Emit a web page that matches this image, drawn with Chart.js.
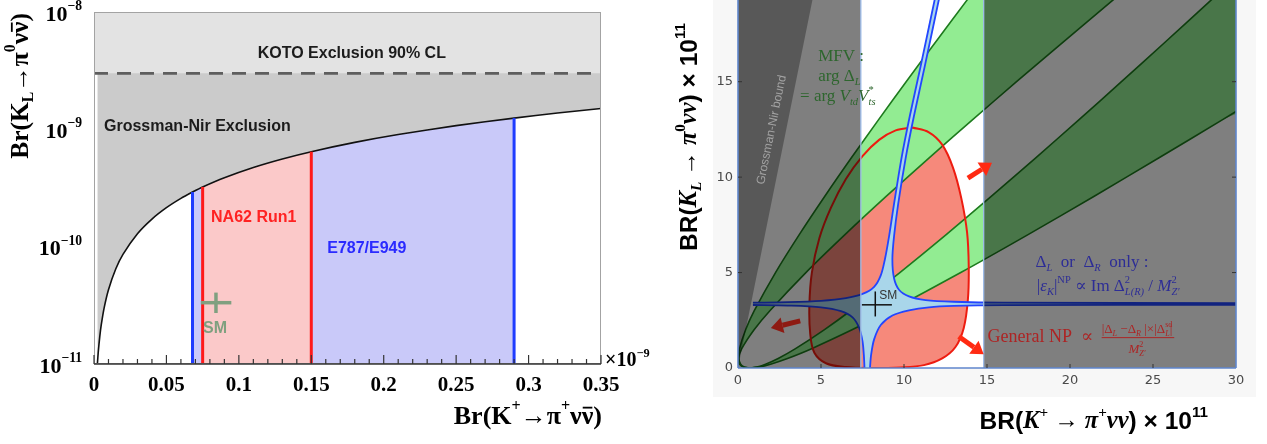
<!DOCTYPE html>
<html><head><meta charset="utf-8">
<script src="https://cdn.jsdelivr.net/npm/chart.js@4.4.1/dist/chart.umd.min.js"></script>
<style>
html,body{margin:0;padding:0;background:#fff;width:1267px;height:444px;overflow:hidden;}
#bgR{position:absolute;left:713px;top:0;width:543px;height:397px;background:#f7f7f7;}
#cL{position:absolute;left:0;top:0;width:700px;height:444px;}
#cR{position:absolute;left:640px;top:0;width:627px;height:444px;}
</style></head><body>
<div id="bgR"></div>
<canvas id="cL" width="700" height="444"></canvas>
<canvas id="cR" width="627" height="444"></canvas>
<script>
// ================= LEFT PANEL DATA =================
const leftXTicks = [0, 0.05, 0.1, 0.15, 0.2, 0.25, 0.3, 0.35];
const leftXMinor = [0.01,0.02,0.03,0.04,0.06,0.07,0.08,0.09,0.11,0.12,0.13,0.14,0.16,0.17,0.18,0.19,0.21,0.22,0.23,0.24,0.26,0.27,0.28,0.29,0.31,0.32,0.33,0.34];
const leftYTicks = [1e-8, 1e-9, 1e-10, 1e-11];
const leftYExp = ['\u22128','\u22129','\u221210','\u221211'];
// Grossman-Nir bound curve (BR(K+) in units of 1e-9, BR(KL))
const gnKplus = [0.0023,0.003,0.004,0.005,0.007,0.01,0.015,0.02,0.03,0.04,0.05,0.06,0.068,0.075,0.09,0.11,0.13,0.15,0.18,0.21,0.25,0.29,0.32,0.35];
const gnKL = [9.9e-12,1.29e-11,1.72e-11,2.15e-11,3.01e-11,4.3e-11,6.45e-11,8.6e-11,1.29e-10,1.72e-10,2.15e-10,2.58e-10,2.92e-10,3.23e-10,3.87e-10,4.73e-10,5.59e-10,6.45e-10,7.74e-10,9.03e-10,1.075e-9,1.247e-9,1.376e-9,1.505e-9];
const kotoLimit = 3.0e-9;
const e949Range = [0.068, 0.29];
const na62Range = [0.075, 0.15];
const smKplus = [0.0737, 0.0842, 0.0948];   // low, central, high
const smKL = [2.72e-11, 3.33e-11, 4.06e-11];  // low, central, high

// ================= RIGHT PANEL DATA =================
const rXTicks = [0,5,10,15,20,25,30];
const rYTicks = [0,5,10,15];
const allowedKplus = [7.4, 14.8];
const gnWedge = [[0,0],[4.5,19.35],[0,19.35],[0,0]];
// MFV band boundaries [x, y]
const mfvA = [[0.70,0],[0.38,0.05],[0.16,0.2],[0.05,0.5],[0.09,1],[0.46,2],[0.98,3],[2.26,5],[3.70,7],[5.23,9],[6.82,11],[8.46,13],[10.13,15],[11.84,17],[13.82,19.3],[15.31,21]];
const mfvB = [[0.70,0],[0.31,0.05],[0.09,0.2],[0.03,0.5],[0.22,1],[0.97,2],[1.92,3],[4.09,5],[6.46,7],[8.94,9],[11.50,11],[14.12,13],[16.78,15],[19.48,17],[22.62,19.3],[24.97,21]];
const mfvC = [[0.70,0],[1.13,0.05],[1.66,0.2],[2.42,0.5],[3.44,1],[5.19,2],[6.78,3],[9.75,5],[12.56,7],[15.27,9],[17.92,11],[20.53,13],[23.10,15],[25.64,17],[28.53,19.3],[30.65,21]];
const mfvD = [[0.70,0],[1.25,0.05],[1.96,0.2],[2.98,0.5],[4.40,1],[6.87,2],[9.15,3],[13.42,5],[17.50,7],[21.46,9],[25.34,11],[29.17,13],[31.06,14]];
// General NP region
const npRegion = [[10.5,12.6],[11.5,12.35],[12.3,11.7],[12.95,10.5],[13.45,8.9],[13.8,7.1],[13.9,5.3],[13.85,3.6],[13.6,2.1],[13.1,1.1],[12.3,0.5],[11.2,0.15],[9.8,0.03],[8.0,0.0],[6.5,0.05],[5.3,0.25],[4.6,0.8],[4.35,1.8],[4.3,3.3],[4.45,5.0],[4.9,6.8],[5.6,8.4],[6.5,9.9],[7.5,11.1],[8.5,11.95],[9.5,12.45],[10.5,12.6]];
// Delta_L or Delta_R only region (four branches)
const dUL = [[0.9,3.42],[3,3.45],[5,3.52],[6.5,3.66],[7.5,3.88],[8.2,4.25],[8.6,4.85],[8.85,5.7],[9.1,6.9],[9.4,8.6],[9.85,11],[10.35,13.2],[11.0,15.8],[11.85,19.3]];
const dUR = [[12.1,19.3],[11.25,15.8],[10.6,13.2],[10.1,11],[9.65,8.6],[9.4,6.9],[9.3,5.7],[9.4,4.7],[9.7,4.1],[10.3,3.75],[11.3,3.56],[13,3.47],[16,3.42],[30,3.4]];
const dLL = [[0.9,3.3],[3,3.27],[5,3.18],[6.2,2.98],[6.9,2.65],[7.3,2.1],[7.5,1.4],[7.58,0.7],[7.62,0]];
const dLR = [[7.95,0],[8.02,0.7],[8.2,1.5],[8.6,2.25],[9.3,2.75],[10.3,3.02],[11.5,3.18],[13,3.25],[16,3.29],[30,3.31]];
const smR = {x:[7.46, 8.27, 9.27], y:[2.70, 3.31, 4.01]};
const rArrows = [[13.85,9.95,15.3,10.75],[13.3,1.65,14.8,0.72],[3.75,2.47,1.98,2.09]];

// ================= helpers =================
const SERIF = '"Liberation Serif","DejaVu Serif",serif';
const SANS = '"Liberation Sans",Arial,"DejaVu Sans",sans-serif';
const T = (t,o={}) => Object.assign({t}, o);
function fontStr(p, size){ return (p.i?'italic ':'') + (p.b?'bold ':'') + size.toFixed(1) + 'px ' + (p.f==='sans'?SANS:SERIF); }
function layoutRich(ctx, parts, size){
  let x = 0; const items = [];
  for (const p of parts){
    const sz = p.s ? size*0.62 : size;
    ctx.font = fontStr(p, sz);
    const w = ctx.measureText(p.t).width;
    const dy = p.s==='sub' ? size*0.3 : p.s==='sup' ? -size*0.38 : 0;
    items.push({p, x, w, sz, dy});
    if (!p.na) x += w;
  }
  return {items, width:x};
}
function drawRich(ctx, parts, x, y, size, color, align){
  ctx.save();
  const L = layoutRich(ctx, parts, size);
  const x0 = align==='center' ? x - L.width/2 : align==='right' ? x - L.width : x;
  ctx.fillStyle = color; ctx.strokeStyle = color;
  ctx.textBaseline = 'middle'; ctx.textAlign = 'left';
  for (const it of L.items){
    ctx.font = fontStr(it.p, it.sz);
    ctx.fillText(it.p.t, x0 + it.x, y + it.dy);
    if (it.p.bar){
      ctx.lineWidth = Math.max(1, size*0.07);
      const by = y + it.dy - it.sz*0.36;
      ctx.beginPath(); ctx.moveTo(x0+it.x+1, by); ctx.lineTo(x0+it.x+it.w-1, by); ctx.stroke();
    }
  }
  ctx.restore();
  return L.width;
}
function seg(ctx,x1,y1,x2,y2){ ctx.beginPath(); ctx.moveTo(x1,y1); ctx.lineTo(x2,y2); ctx.stroke(); }
const toXY = arr => arr.map(([x,y]) => ({x, y}));

// ================= LEFT CHART =================
const gnData = gnKplus.map((x,i) => ({x, y: gnKL[i]}));
const gnAt = v => gnKL[gnKplus.indexOf(v)];
const bandPts = r => gnData.filter(p => p.x >= r[0] && p.x <= r[1]);
const vline = (v, color) => ({data:[{x:v,y:1e-11},{x:v,y:gnAt(v)}], borderColor:color, borderWidth:3, pointRadius:0, fill:false, order:20});

const leftDecor = {
  id:'leftDecor',
  afterDatasetsDraw(chart){
    const {ctx, chartArea:a, scales:{x, y}} = chart;
    ctx.save();
    ctx.strokeStyle = '#a3a3a3'; ctx.lineWidth = 1;
    ctx.strokeRect(a.left+0.5, a.top+0.5, a.right-a.left-1, a.bottom-a.top-1);
    ctx.strokeStyle = '#333'; ctx.lineWidth = 1.5;
    seg(ctx, a.left, a.bottom, a.right, a.bottom);
    ctx.lineWidth = 1.2;
    leftXTicks.forEach(v => { const px = x.getPixelForValue(v); seg(ctx, px, a.bottom, px, a.bottom-9); });
    leftXMinor.forEach(v => { const px = x.getPixelForValue(v); seg(ctx, px, a.bottom, px, a.bottom-5); });
    // y tick labels
    leftYTicks.forEach((v,i) => {
      const py = y.getPixelForValue(v);
      drawRich(ctx, [T('10',{b:1}), T(leftYExp[i],{b:1,s:'sup'})], 82, py+3, 22, '#000', 'right');
    });
    // x10^-9
    drawRich(ctx, [T('\u00d710',{b:1}), T('\u22129',{b:1,s:'sup'})], a.right+4, a.bottom-3, 20, '#000', 'left');
    // axis titles
    const yt = [T('Br(K',{b:1}),T('L',{b:1,s:'sub'}),T('\u2192\u03c0',{b:1}),T('0',{b:1,s:'sup'}),T('\u03bd',{b:1}),T('\u03bd',{b:1,bar:1}),T(')',{b:1})];
    const W = layoutRich(ctx, yt, 25.5).width;
    ctx.save(); ctx.translate(21, a.top + 1 + W/2); ctx.rotate(-Math.PI/2);
    drawRich(ctx, yt, 0, 0, 25.5, '#000', 'center'); ctx.restore();
    const xt = [T('Br(K',{b:1}),T('+',{b:1,s:'sup'}),T('\u2192\u03c0',{b:1}),T('+',{b:1,s:'sup'}),T('\u03bd',{b:1}),T('\u03bd',{b:1,bar:1}),T(')',{b:1})];
    drawRich(ctx, xt, a.right+1, 417, 26, '#000', 'right');
    // annotations
    const lab = (t, vx, vy, col, al) => {
      ctx.font = 'bold 16px ' + SANS; ctx.fillStyle = col; ctx.textAlign = al; ctx.textBaseline = 'middle';
      ctx.fillText(t, x.getPixelForValue(vx), y.getPixelForValue(vy));
    };
    lab('KOTO Exclusion 90% CL', 0.178, 4.41e-9, '#1c1c1c', 'center');
    lab('Grossman-Nir Exclusion', 0.0069, 1.05e-9, '#1c1c1c', 'left');
    lab('NA62 Run1', 0.0808, 1.76e-10, '#ff2222', 'left');
    lab('E787/E949', 0.161, 9.6e-11, '#2a2aff', 'left');
    lab('SM', 0.0835, 2.0e-11, '#7fa07f', 'center');
    ctx.restore();
  }
};

new Chart(document.getElementById('cL'), {
  type:'line',
  data:{datasets:[
    {data:[{x:smKplus[0],y:smKL[1]},{x:smKplus[2],y:smKL[1]}], borderColor:'#80a080', borderWidth:3.5, pointRadius:0, order:10},
    {data:[{x:smKplus[1],y:smKL[0]},{x:smKplus[1],y:smKL[2]}], borderColor:'#80a080', borderWidth:3.5, pointRadius:0, order:10},
    vline(e949Range[0], '#1f3cff'), vline(e949Range[1], '#1f3cff'),
    vline(na62Range[0], '#ff1a1a'), vline(na62Range[1], '#ff1a1a'),
    {data:[{x:0,y:kotoLimit},{x:0.35,y:kotoLimit}], borderColor:'#5e5e5e', borderWidth:2.6, borderDash:[14,9], pointRadius:0, fill:'end', backgroundColor:'#e3e3e3', order:30},
    {data:gnData, borderColor:'#111', borderWidth:1.6, pointRadius:0, tension:0.2, fill:'end', backgroundColor:'#cbcbcb', order:40},
    {data:bandPts(na62Range), borderWidth:0, pointRadius:0, fill:'start', backgroundColor:'#fbc9c9', order:50},
    {data:bandPts(e949Range), borderWidth:0, pointRadius:0, fill:'start', backgroundColor:'#c9c9f9', order:60}
  ]},
  options:{
    responsive:false, animation:false, devicePixelRatio:1,
    layout:{padding:{left:0, right:99, top:12, bottom:0}},
    plugins:{legend:{display:false}, tooltip:{enabled:false}},
    scales:{
      x:{type:'linear', min:0, max:0.35,
         afterBuildTicks:s => { s.ticks = leftXTicks.map(v => ({value:v})); },
         afterFit:s => { s.height = 80; s.paddingLeft = 0; s.paddingRight = 0; },
         grid:{display:false, drawTicks:false}, border:{display:false},
         ticks:{color:'#000', padding:9, maxRotation:0, autoSkip:false, font:{family:'Liberation Serif', weight:'bold', size:21},
                callback:v => String(+(+v).toFixed(2))}},
      y:{type:'logarithmic', min:1e-11, max:1e-8,
         afterBuildTicks:s => { s.ticks = leftYTicks.map(v => ({value:v})); },
         afterFit:s => { s.width = 94; s.paddingTop = 0; s.paddingBottom = 0; },
         grid:{display:false, drawTicks:false}, border:{display:false}, ticks:{display:false}}
    }
  },
  plugins:[leftDecor]
});

// ================= RIGHT CHART =================
const rds = (arr, o) => Object.assign({data: toXY(arr), pointRadius:0, borderWidth:0, fill:false, tension:0}, o);
const band1 = mfvA.concat(mfvB.slice().reverse());
const band2 = mfvC.concat(mfvD.slice().reverse());
const star = dUL.concat(dUR, dLR.slice().reverse(), dLL.slice().reverse());
const rectL = [[0,0],[allowedKplus[0],0],[allowedKplus[0],19.5],[0,19.5],[0,0]];
const rectR = [[allowedKplus[1],0],[30.5,0],[30.5,19.5],[allowedKplus[1],19.5],[allowedKplus[1],0]];
const GREEN = '#1d7a1d', BLUE = '#2346ff';

function arrow(ctx, x1, y1, x2, y2, color){
  const ang = Math.atan2(y2-y1, x2-x1), hl = 12, hw = 8;
  const bx = x2 - hl*Math.cos(ang), by = y2 - hl*Math.sin(ang);
  ctx.save(); ctx.strokeStyle = color; ctx.fillStyle = color; ctx.lineWidth = 5; ctx.lineCap = 'butt';
  seg(ctx, x1, y1, bx, by);
  ctx.beginPath(); ctx.moveTo(x2, y2);
  ctx.lineTo(bx + hw*Math.sin(ang), by - hw*Math.cos(ang));
  ctx.lineTo(bx - hw*Math.sin(ang), by + hw*Math.cos(ang));
  ctx.closePath(); ctx.fill(); ctx.restore();
}

const rightDecor = {
  id:'rightDecor',
  beforeDatasetsDraw(chart){
    const {ctx, chartArea:a} = chart;
    ctx.save(); ctx.fillStyle = '#fff'; ctx.fillRect(a.left, a.top, a.right-a.left, a.bottom-a.top); ctx.restore();
  },
  afterDatasetsDraw(chart){
    const {ctx, chartArea:a, scales:{x, y}} = chart;
    const X = v => x.getPixelForValue(v), Y = v => y.getPixelForValue(v);
    ctx.save();
    // frame
    ctx.strokeStyle = '#5f86cc'; ctx.lineWidth = 1.6;
    seg(ctx, a.left, a.top, a.left, a.bottom); seg(ctx, a.left, a.bottom, a.right, a.bottom); seg(ctx, a.right, a.top, a.right, a.bottom);
    ctx.strokeStyle = '#333'; ctx.lineWidth = 1;
    rYTicks.slice(1).forEach(v => { seg(ctx, a.left, Y(v), a.left+4, Y(v)); seg(ctx, a.right, Y(v), a.right-4, Y(v)); });
    rXTicks.slice(1,-1).forEach(v => { seg(ctx, X(v), a.bottom, X(v), a.bottom-4); });
    // Grossman-Nir bound text
    const ang = Math.atan2(Y(gnWedge[1][1]) - Y(0), X(gnWedge[1][0]) - X(0));
    ctx.save(); ctx.translate(X(2.03), Y(12.48)); ctx.rotate(ang);
    ctx.font = '12px ' + SANS; ctx.fillStyle = '#a2a2a2'; ctx.textAlign = 'center'; ctx.textBaseline = 'middle';
    ctx.fillText('Grossman-Nir bound', 0, 0); ctx.restore();
    // MFV label
    const G = '#2e662e';
    drawRich(ctx, [T('MFV :')], X(4.83), Y(16.3), 17, G, 'left');
    drawRich(ctx, [T('arg '), T('\u0394'), T('L',{i:1,s:'sub'})], X(4.83), Y(15.25), 17, G, 'left');
    drawRich(ctx, [T('= arg '), T('V',{i:1}), T('td',{i:1,s:'sub'}), T('V',{i:1}), T('*',{s:'sup',na:1}), T('ts',{i:1,s:'sub'})], X(3.74), Y(14.2), 17, G, 'left');
    // Delta label
    const B = '#2d2d96';
    drawRich(ctx, [T('\u0394'), T('L',{i:1,s:'sub'}), T('  or  '), T('\u0394'), T('R',{i:1,s:'sub'}), T('  only :')], X(17.92), Y(5.51), 17, B, 'left');
    drawRich(ctx, [T('|'), T('\u03b5',{i:1}), T('K',{i:1,s:'sub'}), T('|'), T('NP',{s:'sup'}), T(' \u221d Im '), T('\u0394'), T('2',{s:'sup',na:1}), T('L(R)',{i:1,s:'sub'}), T(' / '), T('M',{i:1}), T('2',{s:'sup',na:1}), T('Z\u2032',{i:1,s:'sub'})], X(18.0), Y(4.26), 17, B, 'left');
    // General NP label
    const R = '#ad2424';
    const w = drawRich(ctx, [T('General NP  \u221d ')], X(15.03), Y(1.59), 18, R, 'left');
    const fx = X(15.03) + w + 4, fy = Y(1.59);
    const numW = drawRich(ctx, [T('|\u0394'), T('L',{i:1,s:'sub'}), T(' \u2212\u0394'), T('R',{i:1,s:'sub'}), T(' |\u00d7|\u0394'), T('sd',{s:'sup',na:1}), T('L',{i:1,s:'sub'}), T('|')], fx, fy-8, 13, R, 'left');
    ctx.strokeStyle = R; ctx.lineWidth = 1; seg(ctx, fx, fy, fx+numW+2, fy);
    drawRich(ctx, [T('M',{i:1}), T('2',{s:'sup',na:1}), T('Z\u2032',{i:1,s:'sub'})], fx + numW/2, fy+12, 13, R, 'center');
    // SM
    ctx.font = '12px ' + SANS; ctx.fillStyle = '#333'; ctx.textAlign = 'left'; ctx.textBaseline = 'middle';
    ctx.fillText('SM', X(8.51), Y(3.8));
    // arrows
    rArrows.forEach((r,i) => arrow(ctx, X(r[0]), Y(r[1]), X(r[2]), Y(r[3]), i < 2 ? '#ff2a12' : '#8e1a12'));
    // axis titles (outside the plot)
    const yt = [T('BR(',{f:'sans',b:1}), T('K',{b:1,i:1}), T('L',{b:1,i:1,s:'sub'}), T(' \u2192 ',{b:1}), T('\u03c0',{b:1,i:1}), T('0',{b:1,s:'sup'}), T('\u03bd\u03bd',{b:1,i:1}), T(') \u00d7 10',{f:'sans',b:1}), T('11',{f:'sans',b:1,s:'sup'})];
    ctx.save(); ctx.translate(50, 137); ctx.rotate(-Math.PI/2);
    drawRich(ctx, yt, 0, 0, 24.5, '#000', 'center'); ctx.restore();
    const xt = [T('BR(',{f:'sans',b:1}), T('K',{b:1,i:1}), T('+',{b:1,s:'sup'}), T(' \u2192 ',{b:1}), T('\u03c0',{b:1,i:1}), T('+',{b:1,s:'sup'}), T('\u03bd\u03bd',{b:1,i:1}), T(') \u00d7 10',{f:'sans',b:1}), T('11',{f:'sans',b:1,s:'sup'})];
    drawRich(ctx, xt, 568, 422, 24.5, '#000', 'right');
    ctx.restore();
  }
};

new Chart(document.getElementById('cR'), {
  type:'line',
  data:{datasets:[
    rds([[allowedKplus[0],0],[allowedKplus[0],19.5]], {borderColor:'#9dbbe8', borderWidth:1.3, order:20}),
    rds([[allowedKplus[1],0],[allowedKplus[1],19.5]], {borderColor:'#9dbbe8', borderWidth:1.3, order:20}),
    rds(gnWedge, {fill:'shape', backgroundColor:'rgba(0,0,0,0.3)', order:25}),
    rds(rectL, {fill:'shape', backgroundColor:'rgba(0,0,0,0.5)', order:30}),
    rds(rectR, {fill:'shape', backgroundColor:'rgba(0,0,0,0.5)', order:30}),
    rds([[smR.x[0],smR.y[1]],[smR.x[2],smR.y[1]]], {borderColor:'#111', borderWidth:1.5, order:45}),
    rds([[smR.x[1],smR.y[0]],[smR.x[1],smR.y[2]]], {borderColor:'#111', borderWidth:1.5, order:45}),
    rds(dUL, {borderColor:BLUE, borderWidth:1.8, tension:0.3, order:50}),
    rds(dUR, {borderColor:BLUE, borderWidth:1.8, tension:0.3, order:50}),
    rds(dLL, {borderColor:BLUE, borderWidth:1.8, tension:0.3, order:50}),
    rds(dLR, {borderColor:BLUE, borderWidth:1.8, tension:0.3, order:50}),
    rds(star, {fill:'shape', backgroundColor:'#a9d6ea', tension:0.3, order:60}),
    rds(npRegion, {borderColor:'#ee1c10', borderWidth:2, tension:0.35, order:70}),
    rds(mfvA, {borderColor:GREEN, borderWidth:1.6, tension:0.3, order:80}),
    rds(mfvB, {borderColor:GREEN, borderWidth:1.6, tension:0.3, order:80}),
    rds(mfvC, {borderColor:GREEN, borderWidth:1.6, tension:0.3, order:80}),
    rds(mfvD, {borderColor:GREEN, borderWidth:1.6, tension:0.3, order:80}),
    rds(band1, {fill:'shape', backgroundColor:'#92ec92', tension:0.3, order:90}),
    rds(band2, {fill:'shape', backgroundColor:'#92ec92', tension:0.3, order:89}),
    rds(npRegion, {fill:'shape', backgroundColor:'#f6897b', tension:0.35, order:100})
  ]},
  options:{
    responsive:false, animation:false, devicePixelRatio:1,
    layout:{padding:{left:0, right:31, top:0, bottom:0}},
    plugins:{legend:{display:false}, tooltip:{enabled:false}},
    scales:{
      x:{type:'linear', min:0, max:30,
         afterBuildTicks:s => { s.ticks = rXTicks.map(v => ({value:v})); },
         afterFit:s => { s.height = 76; s.paddingLeft = 0; s.paddingRight = 0; },
         grid:{display:false, drawTicks:false}, border:{display:false},
         ticks:{color:'#4a4a4a', padding:5, maxRotation:0, autoSkip:false, font:{family:'DejaVu Sans', size:13}, callback:v => String(v)}},
      y:{type:'linear', min:0, max:19.28,
         afterBuildTicks:s => { s.ticks = rYTicks.map(v => ({value:v})); },
         afterFit:s => { s.width = 98; s.paddingTop = 0; s.paddingBottom = 0; },
         grid:{display:false, drawTicks:false}, border:{display:false},
         ticks:{color:'#4a4a4a', padding:5, autoSkip:false, font:{family:'DejaVu Sans', size:13}, callback:v => String(v)}}
    }
  },
  plugins:[rightDecor]
});
</script></body></html>
